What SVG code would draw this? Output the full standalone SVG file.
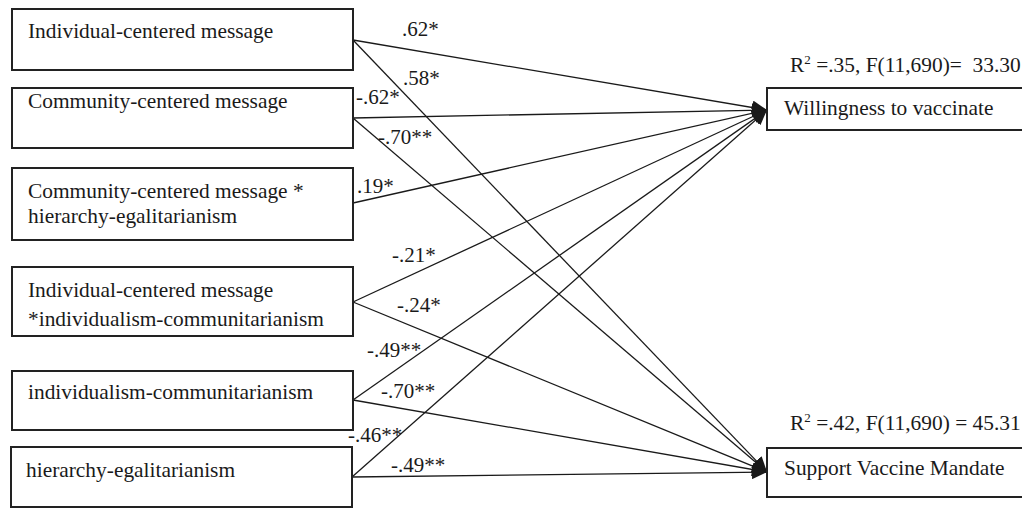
<svg xmlns="http://www.w3.org/2000/svg" width="1022" height="508" viewBox="0 0 1022 508">
<defs>
<style>
.box{fill:#fff;stroke:#222;stroke-width:2}
.t{font-family:"Liberation Serif","Times New Roman",serif;font-size:21.4px;fill:#1a1a1a;white-space:pre}
.lbl{font-family:"Liberation Serif","Times New Roman",serif;font-size:21px;fill:#1a1a1a}
.c{stroke:#1a1a1a;stroke-width:1.3;fill:none;marker-end:url(#ah)}
</style>
<marker id="ah" markerUnits="userSpaceOnUse" markerWidth="16" markerHeight="14" refX="15" refY="7" orient="auto">
<path d="M0,0 L15,7 L0,14 Z" fill="#1a1a1a"/>
</marker>
</defs>
<rect width="1022" height="508" fill="#fff"/>
<g id="connectors">
<line class="c" x1="353" y1="40" x2="767" y2="110"/>
<line class="c" x1="353" y1="40" x2="767" y2="472"/>
<line class="c" x1="353" y1="118" x2="767" y2="110"/>
<line class="c" x1="353" y1="118" x2="767" y2="472"/>
<line class="c" x1="353" y1="203" x2="767" y2="110"/>
<line class="c" x1="353" y1="302" x2="767" y2="110"/>
<line class="c" x1="353" y1="302" x2="767" y2="472"/>
<line class="c" x1="353" y1="400" x2="767" y2="110"/>
<line class="c" x1="353" y1="400" x2="767" y2="472"/>
<line class="c" x1="352" y1="477" x2="767" y2="110"/>
<line class="c" x1="352" y1="477" x2="767" y2="472"/>
<text class="lbl" x="402" y="36">.62*</text>
<text class="lbl" x="403" y="85">.58*</text>
<text class="lbl" x="356" y="104">-.62*</text>
<text class="lbl" x="378" y="144">-.70**</text>
<text class="lbl" x="357" y="193">.19*</text>
<text class="lbl" x="392" y="262">-.21*</text>
<text class="lbl" x="397" y="312">-.24*</text>
<text class="lbl" x="367" y="357">-.49**</text>
<text class="lbl" x="381" y="398">-.70**</text>
<text class="lbl" x="348" y="442">-.46**</text>
<text class="lbl" x="391" y="472">-.49**</text>
</g>
<g id="n1"><rect class="box" x="12" y="9" width="341" height="61"/><text class="t" x="28" y="38">Individual-centered message</text></g>
<g id="n2"><rect class="box" x="12" y="88" width="341" height="60"/><text class="t" x="28" y="108">Community-centered message</text></g>
<g id="n3"><rect class="box" x="12" y="168" width="341" height="72"/><text class="t" x="28" y="198">Community-centered message *</text><text class="t" x="28" y="223">hierarchy-egalitarianism</text></g>
<g id="n4"><rect class="box" x="12" y="267" width="341" height="69"/><text class="t" x="28" y="297">Individual-centered message</text><text class="t" x="28" y="326">*individualism-communitarianism</text></g>
<g id="n5"><rect class="box" x="12" y="371" width="341" height="59"/><text class="t" x="28" y="399">individualism-communitarianism</text></g>
<g id="n6"><rect class="box" x="11" y="447" width="341" height="60"/><text class="t" x="26" y="477">hierarchy-egalitarianism</text></g>
<g id="willingness"><rect class="box" x="767" y="88" width="260" height="42"/><text class="t" x="784" y="115">Willingness to vaccinate</text><text class="t" x="790" y="72">R<tspan font-size="13" dy="-8">2</tspan><tspan dy="8"> =.35, F(11,690)=  33.30</tspan></text></g>
<g id="mandate"><rect class="box" x="767" y="448" width="260" height="49"/><text class="t" x="784" y="475">Support Vaccine Mandate</text><text class="t" x="790" y="430">R<tspan font-size="13" dy="-8">2</tspan><tspan dy="8"> =.42, F(11,690) = 45.31</tspan></text></g>
</svg>
